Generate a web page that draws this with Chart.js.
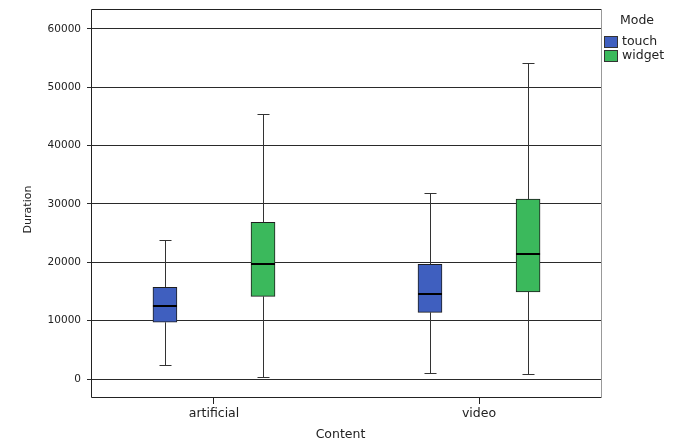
<!DOCTYPE html>
<html><head><meta charset="utf-8">
<script src="https://cdn.jsdelivr.net/npm/chart.js@4"></script>
<style>html,body{margin:0;padding:0;background:#fff}#wrap{width:674px;height:443px}</style>
</head><body><div id="wrap"><canvas id="c" width="674" height="443"></canvas></div>
<script>
const categories = ['artificial', 'video'];
const legendTitle = 'Mode';
const xTitle = 'Content';
const yTitle = 'Duration';

const touchMin    = [2350, 980];
const touchQ1     = [9720, 11430];
const touchMedian = [12460, 14620];
const touchQ3     = [15720, 19660];
const touchMax    = [23770, 31930];

const widgetMin    = [290, 810];
const widgetQ1     = [14170, 14910];
const widgetMedian = [19760, 21370];
const widgetQ3     = [26860, 30850];
const widgetMax    = [45370, 54210];

const yTicks = [0, 10000, 20000, 30000, 40000, 50000, 60000];

const FONT = '"DejaVu Sans", sans-serif';
Chart.defaults.font.family = FONT;
Chart.defaults.color = '#222';

const groupOffsets = [-0.185, 0.185];
function boxData(q1, q3, s) {
  return categories.map((c, i) => ({ x: i + groupOffsets[s], y: [q1[i], q3[i]] }));
}

const whiskerPlugin = {
  id: 'whiskers',
  afterDatasetsDraw(chart) {
    const ctx = chart.ctx, yS = chart.scales.y;
    chart.data.datasets.forEach((ds, di) => {
      const meta = chart.getDatasetMeta(di);
      meta.data.forEach((bar, i) => {
        const x = Math.round(bar.x) + 0.5;
        const half = bar.width / 2;
        const yMin = Math.round(yS.getPixelForValue(ds.stats.min[i])) + 0.5;
        const yMax = Math.round(yS.getPixelForValue(ds.stats.max[i])) + 0.5;
        const yQ1 = yS.getPixelForValue(ds.stats.q1[i]);
        const yQ3 = yS.getPixelForValue(ds.stats.q3[i]);
        const yMed = yS.getPixelForValue(ds.stats.med[i]);
        ctx.save();
        ctx.strokeStyle = '#333';
        ctx.lineWidth = 1;
        ctx.beginPath();
        ctx.moveTo(x, yQ3); ctx.lineTo(x, yMax);
        ctx.moveTo(x - 6, yMax); ctx.lineTo(x + 6, yMax);
        ctx.moveTo(x, yQ1); ctx.lineTo(x, yMin);
        ctx.moveTo(x - 6, yMin); ctx.lineTo(x + 6, yMin);
        ctx.stroke();
        ctx.strokeStyle = '#000';
        ctx.lineWidth = 2;
        ctx.beginPath();
        ctx.moveTo(bar.x - half, Math.round(yMed)); ctx.lineTo(bar.x + half, Math.round(yMed));
        ctx.stroke();
        ctx.restore();
      });
    });
  }
};

const framePlugin = {
  id: 'frame',
  beforeDatasetsDraw(chart) {
    const {ctx, chartArea: a} = chart;
    const l = Math.round(a.left) + 0.5, r = Math.round(a.right) - 0.5;
    const t = Math.round(a.top) + 0.5, b = Math.round(a.bottom) - 0.5;
    ctx.save();
    ctx.lineWidth = 1;
    ctx.strokeStyle = '#222';
    ctx.beginPath();
    ctx.moveTo(r, t); ctx.lineTo(l, t); ctx.lineTo(l, b); ctx.lineTo(r, b);
    ctx.stroke();
    ctx.strokeStyle = '#999';
    ctx.beginPath();
    ctx.moveTo(r, t); ctx.lineTo(r, b);
    ctx.stroke();
    ctx.restore();
  }
};

const titlesAndLegendPlugin = {
  id: 'customLegend',
  afterDraw(chart) {
    const ctx = chart.ctx;
    const a = chart.chartArea;
    ctx.save();
    ctx.fillStyle = '#222';
    ctx.textBaseline = 'middle';
    ctx.textAlign = 'center';
    // axis titles
    ctx.font = '12.5px ' + FONT;
    ctx.fillText(xTitle, (a.left + a.right) / 2 - 6, chart.height - 8);
    ctx.save();
    ctx.translate(28, (a.top + a.bottom) / 2 + 6);
    ctx.rotate(-Math.PI / 2);
    ctx.font = '11px ' + FONT;
    ctx.fillText(yTitle, 0, 0);
    ctx.restore();
    // legend
    const x0 = Math.round(a.right) + 2;
    ctx.font = '12.5px ' + FONT;
    ctx.fillText(legendTitle, x0 + 33, 21);
    chart.data.datasets.forEach((ds, i) => {
      const y = 36 + i * 14;
      ctx.fillStyle = ds.backgroundColor;
      ctx.fillRect(x0, y, 14, 12);
      ctx.strokeStyle = '#333';
      ctx.lineWidth = 1;
      ctx.strokeRect(x0 + 0.5, y + 0.5, 13, 11);
      ctx.fillStyle = '#222';
      ctx.textAlign = 'left';
      ctx.fillText(ds.label, x0 + 18, y + 6);
    });
    ctx.restore();
  }
};

new Chart(document.getElementById('c'), {
  type: 'bar',
  data: {
    datasets: [
      {
        label: 'touch',
        data: boxData(touchQ1, touchQ3, 0),
        backgroundColor: '#3F5FBF',
        borderColor: '#1e1e1e',
        borderWidth: 1,
        borderSkipped: false,
        grouped: false,
        barThickness: 24,
        stats: { min: touchMin, q1: touchQ1, med: touchMedian, q3: touchQ3, max: touchMax }
      },
      {
        label: 'widget',
        data: boxData(widgetQ1, widgetQ3, 1),
        backgroundColor: '#3BB95C',
        borderColor: '#1e1e1e',
        borderWidth: 1,
        borderSkipped: false,
        grouped: false,
        barThickness: 24,
        stats: { min: widgetMin, q1: widgetQ1, med: widgetMedian, q3: widgetQ3, max: widgetMax }
      }
    ]
  },
  options: {
    responsive: false,
    animation: false,
    devicePixelRatio: 1,
    layout: { padding: { left: 0, top: 9, right: 72, bottom: 0 } },
    plugins: { legend: { display: false }, tooltip: { enabled: false } },
    scales: {
      x: {
        type: 'linear',
        min: -0.464,
        max: 1.464,
        offset: false,
        border: { display: false },
        grid: { display: true, drawOnChartArea: false, drawTicks: true, tickLength: 6, color: '#222', offset: false },
        afterBuildTicks(scale) { scale.ticks = categories.map((c, i) => ({ value: i })); },
        ticks: {
          font: { size: 12.5 },
          padding: 2,
          maxRotation: 0,
          autoSkip: false,
          callback: (v) => categories[v] !== undefined ? categories[v] : ''
        },
        title: { display: false },
        afterFit(scale) {
          scale.height = 45;
          scale.paddingLeft = 0; scale.paddingRight = 0; scale.paddingTop = 0; scale.paddingBottom = 0;
        }
      },
      y: {
        type: 'linear',
        min: -3256,
        max: 63410,
        border: { display: false },
        grid: { color: '#2a2a2a', lineWidth: 1, drawTicks: true, tickLength: 4 },
        afterBuildTicks(scale) { scale.ticks = yTicks.map(v => ({ value: v })); },
        ticks: { font: { size: 10.5 }, padding: 6, callback: (v) => String(v) },
        title: { display: false },
        afterFit(scale) {
          scale.width = 91;
          scale.paddingLeft = 0; scale.paddingRight = 0; scale.paddingTop = 0; scale.paddingBottom = 0;
        }
      }
    }
  },
  plugins: [framePlugin, whiskerPlugin, titlesAndLegendPlugin]
});
</script>
</body></html>
